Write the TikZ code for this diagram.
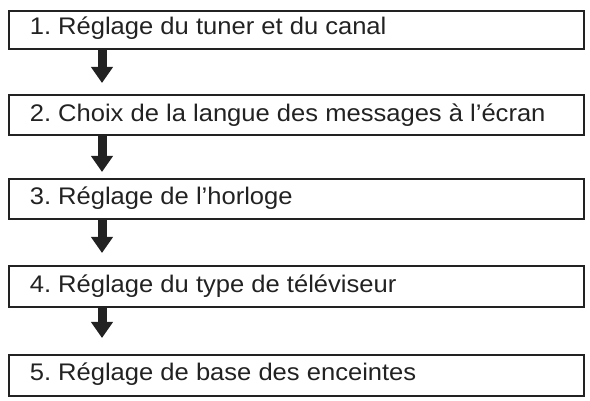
\documentclass[tikz,border=0pt]{standalone}
\usepackage{fontspec}
\setmainfont[FakeStretch=1.065]{Liberation Sans}
\usetikzlibrary{arrows.meta}
\definecolor{ink}{HTML}{222222}
\frenchspacing
\begin{document}
\begin{tikzpicture}[x=1pt,y=-1pt,
  stepbox/.style={draw=ink, text=ink, line width=1.6pt, anchor=north west,
    minimum width=575.4pt, inner xsep=21pt, inner ysep=0pt, text width=533.4pt,
    align=flush left, outer sep=0pt, font=\fontsize{24}{28}\selectfont},
  flow/.style={draw=ink, line width=9pt, -{Triangle[width=21pt,length=16pt]}, fill=ink}]
\useasboundingbox (0,0) rectangle (590,401);
\node[stepbox, text height=24.2pt, text depth=14.2pt] (b1) at (8.8,10.8) {1. Réglage du tuner et du canal};
\node[stepbox, text height=27.2pt, text depth=13.2pt] (b2) at (8.8,94.8) {2. Choix de la langue des messages à l’écran};
\node[stepbox, text height=26.2pt, text depth=14.2pt] (b3) at (8.8,178.8) {3. Réglage de l’horloge};
\node[stepbox, text height=27.2pt, text depth=14.2pt] (b4) at (8.8,265.8) {4. Réglage du type de téléviseur};
\node[stepbox, text height=26.2pt, text depth=15.2pt] (b5) at (8.8,354.8) {5. Réglage de base des enceintes};
\coordinate (ax) at (102,0);
\draw[flow, shorten >=11.8pt] (b1.south -| ax) -- (b2.north -| ax);
\draw[flow, shorten >=6.8pt] (b2.south -| ax) -- (b3.north -| ax);
\draw[flow, shorten >=12.8pt] (b3.south -| ax) -- (b4.north -| ax);
\draw[flow, shorten >=16.8pt] (b4.south -| ax) -- (b5.north -| ax);
\end{tikzpicture}
\end{document}
